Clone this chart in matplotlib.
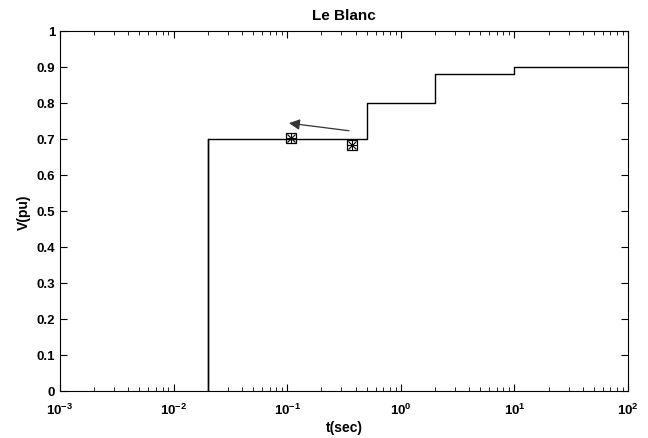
import numpy as np
import matplotlib
matplotlib.use('Agg')
from matplotlib import pyplot as plt

# ride-through curve (step)
t_steps = [1e-3, 0.02, 0.02, 0.5, 2, 10, 100]
v_steps = [0.0, 0.0, 0.7, 0.8, 0.88, 0.9, 0.9]

# measured points
t_pts = [0.108, 0.37]
v_pts = [0.702, 0.684]

# arrow (tail -> head)
arrow_tail = (0.37, 0.722)
arrow_head = (0.098, 0.745)

plt.rcParams['font.family'] = ['Liberation Sans', 'DejaVu Sans']
plt.rcParams['font.weight'] = 'bold'

fig = plt.figure(figsize=(6.48, 4.39), dpi=100)
ax = fig.add_axes([60 / 648, 1 - 392 / 439, 568 / 648, 360 / 439])

ax.step(t_steps[1:], v_steps[1:], where='post', color='black', lw=1.0)
ax.plot([0.02, 0.02], [0, 0.7], color='black', lw=1.0)

ax.plot(t_pts, v_pts, 's', mfc='none', mec='black', ms=7, mew=0.9)
ax.plot(t_pts, v_pts, 'x', color='black', ms=6, mew=0.8)
ax.plot(t_pts, v_pts, '+', color='black', ms=7, mew=0.8)

ax.annotate('', xy=arrow_head, xytext=arrow_tail,
            arrowprops=dict(arrowstyle='-|>', color='#333333', lw=0.9,
                            mutation_scale=16))

ax.set_xscale('log')
ax.set_xlim(1e-3, 1e2)
ax.set_ylim(0, 1)
ax.set_yticks(np.arange(0, 1.01, 0.1))
ax.set_yticklabels(['0', '0.1', '0.2', '0.3', '0.4', '0.5', '0.6', '0.7', '0.8', '0.9', '1'])
ax.tick_params(which='both', direction='in', top=True, right=True, labelsize=9.5)
ax.tick_params(axis='x', pad=8)
ax.tick_params(which='major', length=5)
ax.tick_params(which='minor', length=3)
for s in ax.spines.values():
    s.set_linewidth(0.8)

ax.set_xlabel('t(sec)', fontsize=10, fontweight='bold', labelpad=2)
ax.set_ylabel('V(pu)', fontsize=10, fontweight='bold')
ax.set_title('Le Blanc', fontsize=11, fontweight='bold', pad=9)

plt.savefig('out.png', dpi=100)
